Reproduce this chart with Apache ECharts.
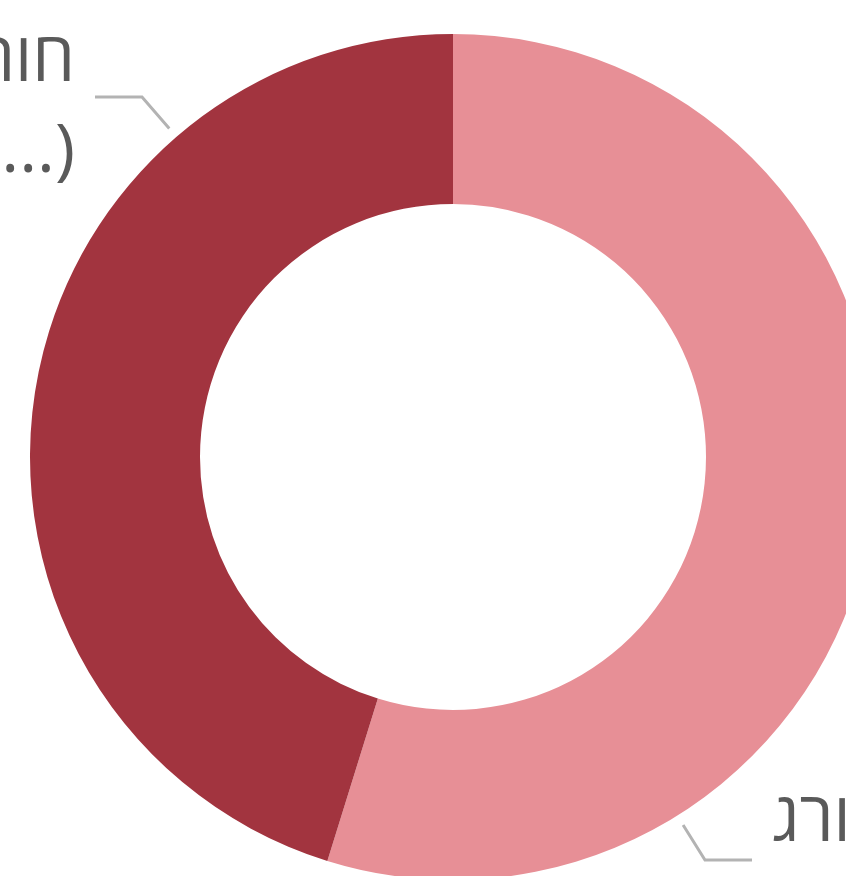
<!DOCTYPE html>
<html><head><meta charset="utf-8">
<script src="https://cdn.jsdelivr.net/npm/echarts@6/dist/echarts.min.js"></script>
<style>html,body{margin:0;padding:0;background:#fff;overflow:hidden}#c{width:846px;height:876px}</style>
</head><body><div id="c"></div>
<script>
// ---- data ----
const categories = ['לא חורג\n(עד הסף)', 'חורג\n(יותר מ-...)'];
const values = [54.8, 45.2];
const colors = ['#E78F96', '#A2343F'];

// ---- layout ----
const CX = 453, CY = 457, R_IN = 253, R_OUT = 423;
const GUIDE_LEN2 = 47, GUIDE_GAP = 11, TEXT_GAP = 20;
// label-line anchor (end of horizontal guide) and text block centre, relative to pie centre
const labelPlacement = [
  { ax: 299, ay: 403, ty: 410, side: 'left' },
  { ax: -358, ay: -360, ty: -350, side: 'right' }
];

function guidePoints(ax, ay, dir) {
  const p1x = ax + dir * GUIDE_LEN2, p1y = ay;
  const dx = p1x - CX, dy = p1y - CY, d = Math.hypot(dx, dy);
  const k = (R_OUT + GUIDE_GAP) / d;
  return [[CX + dx * k, CY + dy * k], [p1x, p1y], [ax, ay]];
}

const chart = echarts.init(document.getElementById('c'), null, { renderer: 'canvas' });
chart.setOption({
  animation: false,
  series: [{
    type: 'pie',
    center: [CX, CY],
    radius: [R_IN, R_OUT],
    startAngle: 90,
    clockwise: true,
    avoidLabelOverlap: false,
    silent: true,
    data: categories.map((n, i) => ({ name: n, value: values[i], itemStyle: { color: colors[i] } })),
    label: {
      show: true,
      formatter: '{b}',
      fontFamily: 'Open Sans',
      fontSize: 68,
      lineHeight: 91,
      color: '#5a5a5a'
    },
    labelLine: { show: true, length: 20, length2: GUIDE_LEN2, lineStyle: { color: '#b3b3b3', width: 3 } },
    labelLayout: function (p) {
      const a = labelPlacement[p.dataIndex];
      const ax = CX + a.ax, ay = CY + a.ay;
      const dir = a.side === 'left' ? -1 : 1;
      return {
        x: ax - dir * TEXT_GAP,
        y: CY + a.ty,
        align: a.side === 'left' ? 'left' : 'right',
        verticalAlign: 'middle',
        labelLinePoints: guidePoints(ax, ay, dir)
      };
    }
  }]
});
</script></body></html>
